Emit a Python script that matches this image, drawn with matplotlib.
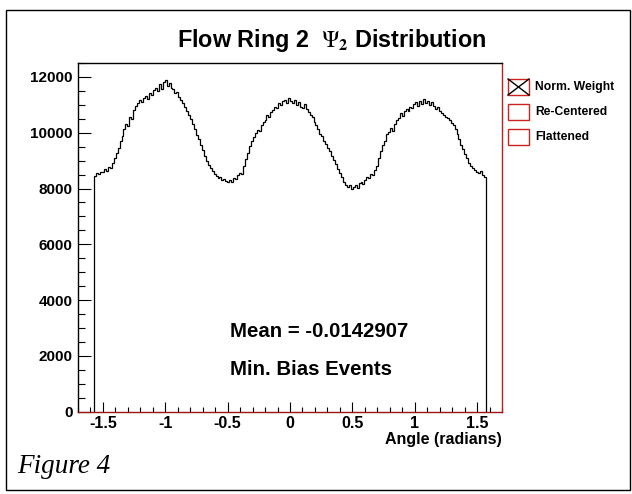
import numpy as np
import matplotlib
matplotlib.use("Agg")
import matplotlib.pyplot as plt
from matplotlib.patches import Rectangle
from matplotlib.lines import Line2D
from matplotlib.ticker import MultipleLocator

plt.rcParams['font.family'] = ['Liberation Sans', 'DejaVu Sans']
plt.rcParams['mathtext.fontset'] = 'stix'

# bin contents (200 bins from -pi/2 to pi/2)
counts = [
    8450, 8560, 8520, 8610, 8580, 8690, 8640, 8770, 8720, 8900,
    9080, 9280, 9450, 9700, 9880, 10150, 10300, 10240, 10560, 10480,
    10820, 10960, 11050, 11180, 11090, 11260, 11330, 11210, 11420, 11360,
    11520, 11610, 11480, 11750, 11560, 11820, 11900, 11680, 11790, 11620,
    11580, 11420, 11460, 11270, 11190, 11050, 10930, 10780, 10620, 10480,
    10330, 10150, 9920, 9780, 9560, 9370, 9180, 8990, 8850, 8720,
    8620, 8530, 8460, 8380, 8410, 8300, 8340, 8260, 8220, 8290,
    8250, 8380, 8330, 8470, 8560, 8520, 8790, 9050, 9280, 9540,
    9720, 9850, 9980, 10110, 10070, 10260, 10380, 10460, 10620, 10580,
    10760, 10820, 10940, 10880, 11050, 10990, 11120, 11180, 11050, 11230,
    11120, 11060, 11190, 10980, 11110, 10940, 10880, 11030, 10850, 10760,
    10640, 10560, 10380, 10290, 10120, 9960, 9880, 9720, 9610, 9470,
    9330, 9180, 9020, 8870, 8700, 8540, 8400, 8230, 8110, 8060,
    8120, 7990, 8060, 8140, 8010, 8190, 8230, 8170, 8310, 8400,
    8360, 8520, 8480, 8650, 8790, 9080, 9360, 9550, 9720, 9950,
    10020, 10160, 10080, 10310, 10460, 10520, 10690, 10610, 10780, 10860,
    10790, 10940, 10880, 11020, 11090, 10960, 11150, 11040, 11200, 11060,
    11130, 10980, 11090, 10950, 10860, 10920, 10780, 10710, 10640, 10580,
    10520, 10440, 10350, 10260, 10130, 9950, 9780, 9560, 9430, 9250,
    9080, 8930, 8820, 8740, 8680, 8610, 8570, 8620, 8500, 8430,
]
legend_labels = ['Norm. Weight', 'Re-Centered', 'Flattened']
mean_value = -0.0142907

W, H = 632, 494
fig = plt.figure(figsize=(W / 100, H / 100), dpi=100)

def fx(px):
    return px / W

def fy(py):
    return 1 - py / H

# outer frame around the whole figure
fig.patches.append(Rectangle((fx(6), fy(490)), fx(624), 480 / H, transform=fig.transFigure,
                             fill=False, edgecolor='black', lw=1.0))

ax = fig.add_axes([fx(78), fy(411.7), fx(502 - 78), (411.7 - 63) / H])

edges = np.linspace(-np.pi / 2, np.pi / 2, len(counts) + 1)
ax.stairs(counts, edges, baseline=0, color='black', lw=0.9)

ax.set_xlim(-1.70, 1.70)
ax.set_ylim(0, 12500)
ax.xaxis.set_major_locator(MultipleLocator(0.5))
ax.xaxis.set_minor_locator(MultipleLocator(0.1))
ax.yaxis.set_major_locator(MultipleLocator(2000))
ax.yaxis.set_minor_locator(MultipleLocator(500))
ax.set_xticks(np.arange(-1.5, 1.51, 0.5))
ax.set_xticklabels(['-1.5', '-1', '-0.5', '0', '0.5', '1', '1.5'])

ax.tick_params(axis='y', which='major', direction='in', length=9, width=0.8, pad=4,
               labelsize=11)
ax.tick_params(axis='y', which='minor', direction='in', length=5, width=0.8)
ax.tick_params(axis='x', which='major', direction='in', length=7, width=0.8, pad=3,
               labelsize=11.5)
ax.tick_params(axis='x', which='minor', direction='in', length=3.5, width=0.8)
for lab in ax.get_xticklabels() + ax.get_yticklabels():
    lab.set_fontweight('bold')

ax.spines['top'].set_color('black')
ax.spines['left'].set_color('black')
ax.spines['bottom'].set_color('#9a1515')
ax.spines['right'].set_color('#b82020')
for s in ax.spines.values():
    s.set_linewidth(1.0)

ax.set_xlabel('Angle (radians)', fontsize=11.5, fontweight='bold', loc='right', labelpad=1)

ax.text(0.358, 0.229, f'Mean = {mean_value}', transform=ax.transAxes,
        fontsize=14.7, fontweight='bold', va='center', ha='left')
ax.text(0.358, 0.122, 'Min. Bias Events', transform=ax.transAxes,
        fontsize=14.7, fontweight='bold', va='center', ha='left')

fig.text(fx(332), fy(40), r'Flow Ring 2  $\mathrm{\Psi}_\mathbf{2}$ Distribution',
         fontsize=16.8, fontweight='bold', ha='center', va='center')

# legend boxes drawn by hand, ROOT style
box_y = [87, 112, 137]
for i, (lab, yc) in enumerate(zip(legend_labels, box_y)):
    x0, x1 = 508, 529
    y0, y1 = yc - 8, yc + 8
    fig.patches.append(Rectangle((fx(x0), fy(y1)), (x1 - x0) / W, (y1 - y0) / H,
                                 transform=fig.transFigure, fill=False,
                                 edgecolor='#cc2222', lw=1.0))
    if i == 0:
        fig.lines.append(Line2D([fx(x0), fx(x1)], [fy(y0), fy(y1)], transform=fig.transFigure,
                                color='black', lw=1.0))
        fig.lines.append(Line2D([fx(x0), fx(x1)], [fy(y1), fy(y0)], transform=fig.transFigure,
                                color='black', lw=1.0))
    fig.text(fx(535), fy(yc), lab, fontsize=8.7, fontweight='bold', ha='left', va='center')

fig.text(fx(17), fy(466), 'Figure 4', fontsize=19.5, style='italic',
         family=['Liberation Serif', 'DejaVu Serif'], ha='left', va='center')

fig.savefig('out.png', dpi=100)
